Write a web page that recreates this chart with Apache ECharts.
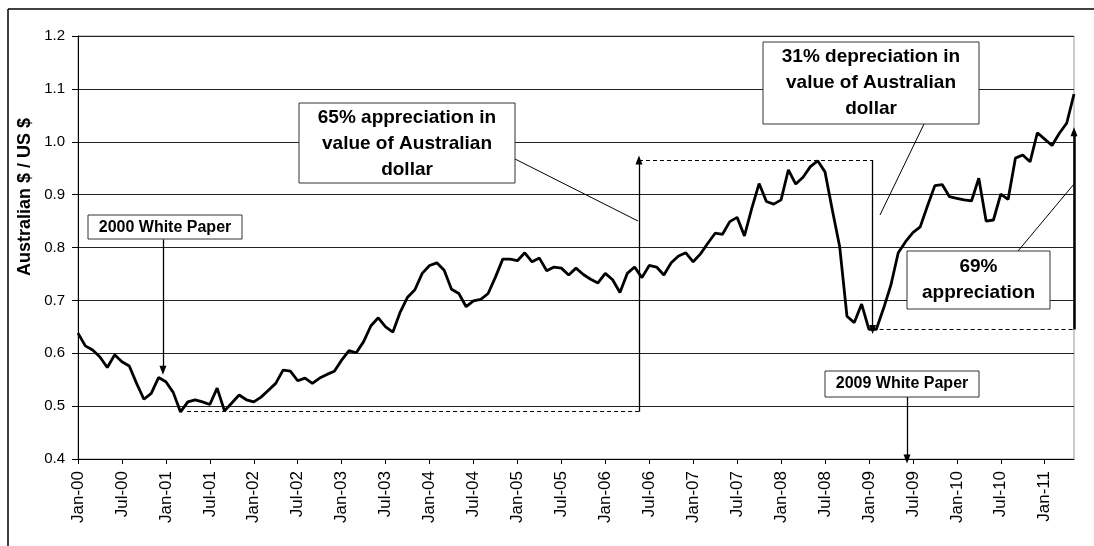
<!DOCTYPE html>
<html>
<head>
<meta charset="utf-8">
<script src="https://cdn.jsdelivr.net/npm/echarts@6/dist/echarts.min.js"></script>
<style>
html,body{margin:0;padding:0;background:#fff;}
#main{width:1094px;height:546px;}
</style>
</head>
<body>
<div id="main"></div>
<script>
// month labels Jan-00 .. May-11
var monthNames = ['Jan','Feb','Mar','Apr','May','Jun','Jul','Aug','Sep','Oct','Nov','Dec'];
var years = ['00','01','02','03','04','05','06','07','08','09','10','11'];

// A$ / US$, one array per year
var rate2000 = [0.638, 0.614, 0.606, 0.593, 0.573, 0.597, 0.584, 0.576, 0.543, 0.513, 0.524, 0.554];
var rate2001 = [0.546, 0.526, 0.489, 0.508, 0.512, 0.508, 0.503, 0.534, 0.491, 0.506, 0.521, 0.512];
var rate2002 = [0.508, 0.517, 0.530, 0.543, 0.568, 0.566, 0.548, 0.553, 0.543, 0.553, 0.560, 0.566];
var rate2003 = [0.587, 0.605, 0.601, 0.622, 0.652, 0.667, 0.650, 0.640, 0.678, 0.706, 0.720, 0.751];
var rate2004 = [0.766, 0.771, 0.757, 0.721, 0.713, 0.688, 0.699, 0.702, 0.713, 0.744, 0.778, 0.778];
var rate2005 = [0.775, 0.790, 0.773, 0.780, 0.756, 0.763, 0.761, 0.748, 0.761, 0.749, 0.740, 0.733];
var rate2006 = [0.751, 0.739, 0.715, 0.751, 0.763, 0.743, 0.766, 0.763, 0.748, 0.771, 0.784, 0.790];
var rate2007 = [0.773, 0.788, 0.808, 0.827, 0.825, 0.849, 0.857, 0.822, 0.874, 0.921, 0.887, 0.882];
var rate2008 = [0.890, 0.947, 0.920, 0.933, 0.953, 0.964, 0.943, 0.871, 0.802, 0.670, 0.658, 0.693];
var rate2009 = [0.645, 0.645, 0.685, 0.729, 0.790, 0.811, 0.828, 0.839, 0.879, 0.917, 0.919, 0.896];
var rate2010 = [0.893, 0.890, 0.888, 0.931, 0.850, 0.852, 0.901, 0.891, 0.969, 0.975, 0.962, 1.017];
var rate2011 = [1.005, 0.993, 1.016, 1.035, 1.090];

// annotation levels (value) and positions (month index)
var lowLevel = 0.4895, peakLevel = 0.9655, troughLevel = 0.645, recentLevel = 1.019;
var lowStart = 14.9, riseAt = 76.6, fallAt = 108.5, lastAt = 136;
var wp2000At = 11.6, wp2000Top = 0.8155, wp2000Tip = 0.568;
var wp2009At = 113.2, wp2009Top = 0.518;

var rates = [].concat(rate2000, rate2001, rate2002, rate2003, rate2004, rate2005,
  rate2006, rate2007, rate2008, rate2009, rate2010, rate2011);
var months = [];
for (var i = 0; i < rates.length; i++) {
  months.push(monthNames[i % 12] + '-' + years[Math.floor(i / 12)]);
}

var FONT = '"Liberation Sans", Arial, sans-serif';

function seg(x1, y1, x2, y2, arrow, style) {
  return [
    {coord: [x1, y1], symbol: 'none', lineStyle: style},
    {coord: [x2, y2], symbol: arrow ? 'triangle' : 'none', symbolSize: [7, 9]}
  ];
}
var solid = {type: 'solid', color: '#000', width: 1.3};
var dashed = {type: [4, 3], color: '#000', width: 1};
var thick = {type: 'solid', color: '#000', width: 2.5};

function box(x, y, w, h) {
  return {type: 'rect', z: 10, shape: {x: x, y: y, width: w, height: h},
    style: {fill: '#fff', stroke: '#333', lineWidth: 1}};
}
function label(x, y, txt, size) {
  return {type: 'text', z: 11, x: x, y: y,
    style: {text: txt, font: 'bold ' + size + 'px ' + FONT, fill: '#000',
      align: 'center', verticalAlign: 'middle', lineHeight: 26}};
}
function line(x1, y1, x2, y2) {
  return {type: 'line', z: 9, shape: {x1: x1, y1: y1, x2: x2, y2: y2},
    style: {stroke: '#000', lineWidth: 1}};
}

var myChart = echarts.init(document.getElementById('main'));
var option = {
  animation: false,
  grid: {left: 78, right: 20, top: 36, bottom: 87, show: true, borderColor: '#999', borderWidth: 1},
  xAxis: [{
    type: 'category',
    data: months,
    boundaryGap: false,
    axisLine: {lineStyle: {color: '#000', width: 1}},
    axisTick: {interval: 5, length: 5, lineStyle: {color: '#000'}},
    axisLabel: {interval: 5, rotate: 90, margin: 12, fontSize: 17, fontFamily: FONT, color: '#000',
      formatter: function (v, idx) { return idx % 6 === 0 ? v : ''; }},
    splitLine: {show: false}
  }, {
    type: 'value', min: 0, max: rates.length - 1, show: false
  }],
  yAxis: {
    type: 'value', min: 0.4, max: 1.2, interval: 0.1,
    axisLine: {show: true, lineStyle: {color: '#000'}},
    axisTick: {show: true, length: 6, lineStyle: {color: '#000'}},
    axisLabel: {margin: 13, fontSize: 15, fontFamily: FONT, color: '#000',
      formatter: function (v) { return v.toFixed(1); }},
    splitLine: {lineStyle: {color: '#222', width: 1}}
  },
  series: [{
    type: 'line',
    data: rates,
    symbol: 'none',
    lineStyle: {color: '#000', width: 2.8},
    z: 5
  }, {
    type: 'line',
    xAxisIndex: 1,
    data: [],
    z: 4,
    markLine: {
      silent: true,
      animation: false,
      label: {show: false},
      emphasis: {disabled: true},
      data: [
        seg(lowStart, lowLevel, riseAt, lowLevel, false, dashed),
        seg(riseAt, lowLevel, riseAt, peakLevel, true, solid),
        seg(riseAt, peakLevel, fallAt, peakLevel, false, dashed),
        seg(fallAt, peakLevel, fallAt, troughLevel, true, solid),
        seg(fallAt, troughLevel, lastAt, troughLevel, false, dashed),
        seg(lastAt, troughLevel, lastAt, recentLevel, true, thick),
        seg(wp2000At, wp2000Top, wp2000At, wp2000Tip, true, solid),
        seg(wp2009At, wp2009Top, wp2009At, 0.4, true, solid)
      ]
    }
  }],
  graphic: [
    // outer frame
    {type: 'line', shape: {x1: 8, y1: 9, x2: 1094, y2: 9}, style: {stroke: '#000', lineWidth: 1.5}},
    {type: 'line', shape: {x1: 8, y1: 9, x2: 8, y2: 546}, style: {stroke: '#000', lineWidth: 1.5}},
    // title, cut off at the top edge as in the source
    {type: 'text', x: -5, y: -14.5, style: {text: 'Figure 1: Australian dollar exchange rate of the AUD against the US dollar',
      font: 'bold 15px ' + FONT, fill: '#000'}},
    // y axis title
    {type: 'text', x: 25, y: 197, rotation: Math.PI / 2,
      style: {text: 'Australian $ / US $', font: 'bold 18px ' + FONT, fill: '#000',
        align: 'center', verticalAlign: 'middle'}},
    // connectors
    line(515, 159, 638, 221),
    line(924, 124, 880, 215),
    line(1018, 251, 1074, 184),
    // boxes
    box(88, 215, 154, 24), label(165, 227.5, '2000 White Paper', 16),
    box(299, 103, 216, 80), label(407, 144, '65% appreciation in\nvalue of Australian\ndollar', 19),
    box(763, 42, 216, 82), label(871, 83, '31% depreciation in\nvalue of Australian\ndollar', 19),
    box(907, 251, 143, 58), label(978.5, 280, '69%\nappreciation', 19),
    box(825, 371, 154, 26), label(902, 384, '2009 White Paper', 16)
  ]
};
myChart.setOption(option);
</script>
</body>
</html>
